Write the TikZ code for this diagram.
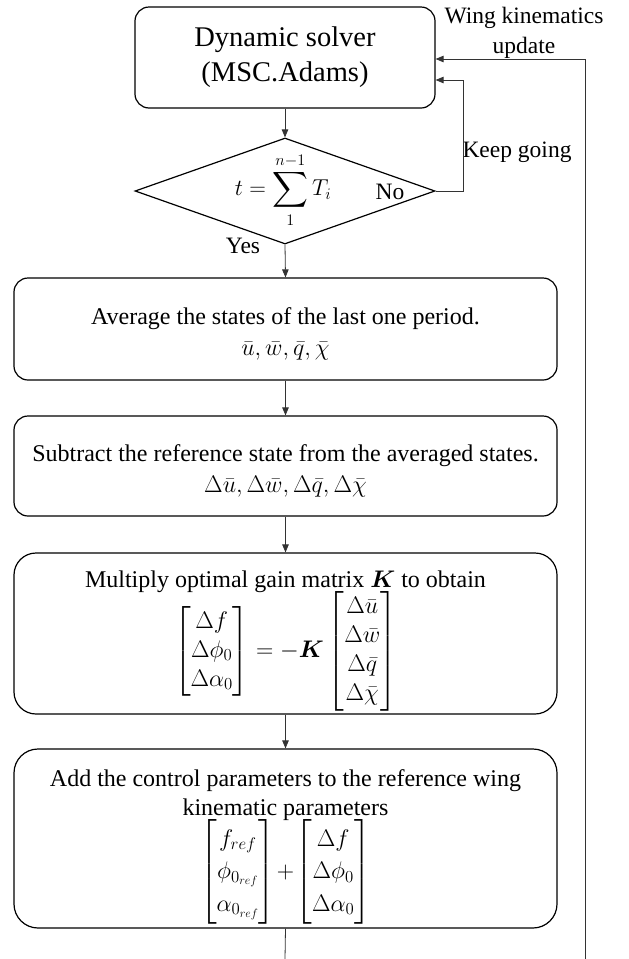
\RequirePackage{fix-cm}
\documentclass[tikz,border=0pt]{standalone}
\usepackage{amsmath}
\usepackage{bm}
\usepackage{fontspec}
\setmainfont{Liberation Serif}
\usetikzlibrary{arrows.meta,shapes.geometric}
\begin{document}
\begin{tikzpicture}[x=1pt,y=-1pt,
  box/.style={draw, line width=1.2pt, rounded corners=14pt, minimum width=543pt,
    align=center, inner sep=0pt, font=\fontsize{24}{29}\selectfont},
  link/.style={draw=black!80, line width=0.8pt},
  conn/.style={link, -{Triangle[length=8pt,width=6.5pt]}},
  lbl/.style={font=\fontsize{23.5}{30}\selectfont, inner sep=0pt, align=center}]
\useasboundingbox (0,0) rectangle (629,959);

\node[box, minimum width=300pt, minimum height=101pt,
  font=\fontsize{28.5}{35}\selectfont] (dyn) at (285,57.5) {Dynamic solver\\(MSC.Adams)};
\node[draw, line width=1.2pt, diamond, minimum width=300pt, minimum height=106pt,
  inner sep=0pt, shape aspect=3] (dia) at (285,191) {};
\node[inner sep=0pt, font=\fontsize{23}{27}\selectfont] (form) at (283,190)
  {$\displaystyle t=\sum_{1}^{n-1}T_i$};
\node[lbl] (no) at (390,192) {No};
\node[lbl] (yes) at (243,246) {Yes};
\node[lbl] (keep) at (517,152) {Keep going};
\node[lbl] (wing) at (524,33) {Wing kinematics\\update};

\node[box, minimum height=102pt] (avg) at (285.5,329)
  {\rule{0pt}{26pt}Average the states of the last one period.\\[2pt]
   $\bar u,\bar w,\bar q,\bar\chi$};
\node[box, minimum height=100pt] (sub) at (285.5,466)
  {\rule{0pt}{26pt}Subtract the reference state from the averaged states.\\[2pt]
   $\Delta\bar u,\Delta\bar w,\Delta\bar q,\Delta\bar\chi$};
\node[box, minimum height=161pt, rounded corners=22pt] (mul) at (285.5,633.5)
  {\rule{0pt}{32pt}Multiply optimal gain matrix $\bm{K}$ to obtain\\[-2pt]
   $\begin{bmatrix}\Delta f\\ \Delta\phi_0\\ \Delta\alpha_0\end{bmatrix}
    = -\bm{K}
    \begin{bmatrix}\Delta\bar u\\ \Delta\bar w\\ \Delta\bar q\\ \Delta\bar\chi\end{bmatrix}$};
\node[box, minimum height=179pt, rounded corners=24pt] (add) at (285.5,838.5)
  {\rule{0pt}{34pt}Add the control parameters to the reference wing\\
   kinematic parameters\\[-2pt]
   $\renewcommand{\arraystretch}{1.12}\begin{bmatrix} f_{ref}\\ \phi_{0_{ref}}\\ \alpha_{0_{ref}}\end{bmatrix}
    \!+\!\begin{bmatrix}\Delta f\\ \Delta\phi_0\\ \Delta\alpha_0\end{bmatrix}$};

\coordinate (kg) at (463,80);
\coordinate (bl) at (285,959);
\coordinate (br) at (585,959);
\coordinate (wk) at (585,59);

\draw[conn] (dyn.south) -- (dia.north);
\draw[conn] (dia.east) -| (kg) -- (kg -| dyn.east);
\draw[conn] (dia.south) -- (avg.north);
\draw[conn] (avg.south) -- (sub.north);
\draw[conn] (sub.south) -- (mul.north);
\draw[conn] (mul.south) -- (add.north);
\draw[link] (add.south) -- (bl);
\draw[conn] (br) -- (wk) -- (wk -| dyn.east);
\end{tikzpicture}
\end{document}
